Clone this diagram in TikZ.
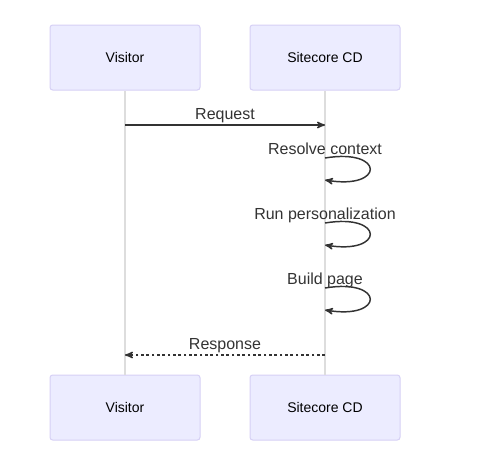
\documentclass[tikz,border=0pt]{standalone}
\usepackage{fontspec}
\setmainfont{Liberation Sans}
\usetikzlibrary{arrows}
\usetikzlibrary{positioning}

\definecolor{actorfill}{HTML}{ECECFF}
\definecolor{actorline}{HTML}{D6D0F5}
\definecolor{lifeline}{HTML}{DDDDDD}
\definecolor{msgline}{HTML}{333333}

\tikzset{
 actor/.style={draw=actorline, fill=actorfill, rounded corners=2pt, line width=.75pt,
   minimum width=112.5pt, minimum height=48.75pt, inner sep=0pt,
   font=\fontsize{10.5}{12}\selectfont, text=black},
 life/.style={draw=lifeline, line width=1.2pt},
 msg/.style={draw=msgline, line width=1.1pt, ->, >=stealth'},
 reply/.style={msg, dash pattern=on 2pt off 2pt},
 msglabel/.style={font=\fontsize{12}{14}\selectfont, text=msgline, anchor=base, inner sep=0pt}
}

\begin{document}
\begin{tikzpicture} [x=.75pt, y=-.75pt]
\useasboundingbox (0,0) rectangle (479,465);
% actors, top and bottom
\node[actor] (vt) at (125,57.5) {Visitor};
\node[actor] (st) at (325,57.5) {Sitecore CD};
\node[actor] (vb) at (125,407.5) {Visitor};
\node[actor] (sb) at (325,407.5) {Sitecore CD};
% lifelines
\draw[life] (vt.south) -- (vb.north);
\draw[life] (st.south) -- (sb.north);
% points on the lifelines
\coordinate (v1) at (125,125);
\coordinate (s1) at (325,125);
\coordinate (v5) at (125,355);
\coordinate (s5) at (325,355);
\foreach \n/\y in {2/158, 3/223, 4/288} {
 \coordinate (a\n) at (325,\y);
 \coordinate (b\n) at (325,\y+22);
}
% messages
\draw[msg] (v1) -- (s1) node[midway, yshift=4.5pt, msglabel] {Request};
\foreach \n/\txt in {2/Resolve context, 3/Run personalization, 4/Build page} {
 \draw[msg] (a\n) .. controls ++(60,-10) and ++(60,10) .. (b\n);
 \node[msglabel, yshift=3pt] at (a\n) {\txt};
}
\draw[reply] (s5) -- (v5) node[midway, yshift=4.5pt, msglabel] {Response};
\end{tikzpicture}
\end{document}
